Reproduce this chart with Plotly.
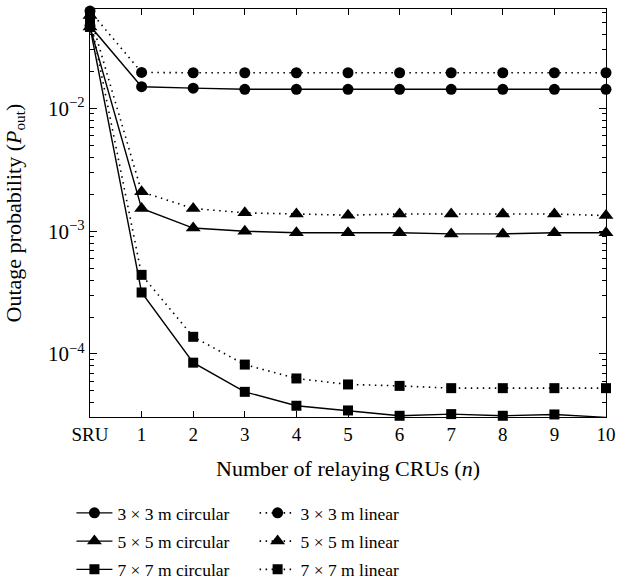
import plotly.graph_objects as go

x_labels = ["SRU", "1", "2", "3", "4", "5", "6", "7", "8", "9", "10"]
x_vals = list(range(11))

c3_circ = [0.047, 0.0150, 0.0146, 0.0143, 0.0143, 0.0143, 0.0143, 0.0143, 0.0143, 0.0143, 0.0143]
c3_lin = [0.062, 0.0196, 0.0195, 0.0195, 0.0195, 0.0195, 0.0195, 0.0195, 0.0195, 0.0195, 0.0195]
c5_circ = [0.046, 1.53e-3, 1.06e-3, 1.00e-3, 0.97e-3, 0.97e-3, 0.97e-3, 0.95e-3, 0.95e-3, 0.97e-3, 0.97e-3]
c5_lin = [0.057, 2.09e-3, 1.53e-3, 1.41e-3, 1.38e-3, 1.35e-3, 1.38e-3, 1.38e-3, 1.38e-3, 1.38e-3, 1.34e-3]
c7_circ = [0.046, 3.17e-4, 8.5e-5, 4.92e-5, 3.79e-5, 3.47e-5, 3.14e-5, 3.24e-5, 3.14e-5, 3.22e-5, 3.05e-5]
c7_lin = [0.055, 4.41e-4, 1.38e-4, 8.2e-5, 6.32e-5, 5.65e-5, 5.5e-5, 5.27e-5, 5.27e-5, 5.27e-5, 5.27e-5]

names = ["3 × 3 m circular", "5 × 5 m circular", "7 × 7 m circular",
         "3 × 3 m linear", "5 × 5 m linear", "7 × 7 m linear"]

y_major = [1e-4, 1e-3, 1e-2]
y_major_text = ["10<sup>−4</sup>", "10<sup>−3</sup>", "10<sup>−2</sup>"]
y_minor = [m * 10.0 ** e for e in range(-5, -1) for m in range(2, 10)]

FONT = "Liberation Serif"
fig = go.Figure()

series = [
    (c3_circ, names[0], "circle", "solid", "legend", 11),
    (c5_circ, names[1], "triangle-up", "solid", "legend", 13),
    (c7_circ, names[2], "square", "solid", "legend", 10),
    (c3_lin, names[3], "circle", "1.5px,4.5px", "legend2", 11),
    (c5_lin, names[4], "triangle-up", "1.5px,4.5px", "legend2", 13),
    (c7_lin, names[5], "square", "1.5px,4.5px", "legend2", 10),
]
for i, (vals, name, sym, dash, leg, ms) in enumerate(series):
    fig.add_trace(go.Scatter(
        x=x_vals, y=vals, name=name, mode="lines+markers",
        line=dict(color="black", width=1.4 if dash == "solid" else 1.6, dash=dash),
        marker=dict(symbol=sym, size=ms, color="black"),
        legend=leg, legendgroup=f"g{i}", cliponaxis=False,
    ))

legend_common = dict(
    font=dict(family=FONT, size=17.5, color="black"),
    bgcolor="rgba(0,0,0,0)", itemwidth=36, tracegroupgap=2.5,
    xanchor="left", yanchor="top", yref="container", y=0.151,
)

fig.update_layout(
    width=617, height=583,
    margin=dict(l=90, r=11, t=9, b=166, autoexpand=False),
    paper_bgcolor="white", plot_bgcolor="white",
    font=dict(family=FONT, size=18, color="black"),
    showlegend=True,
    legend=dict(x=-0.036, **legend_common),
    legend2=dict(x=0.319, **legend_common),
    xaxis=dict(
        range=[0, 10], tickvals=x_vals, ticktext=x_labels,
        ticks="inside", ticklen=6, tickcolor="black",
        showline=True, linecolor="black", linewidth=1.2, mirror="ticks",
        showgrid=False, zeroline=False, automargin=False,
        title=dict(text="Number of relaying CRUs (<i>n</i>)", standoff=16,
                   font=dict(family=FONT, size=22)),
        tickfont=dict(family=FONT, size=19),
    ),
    yaxis=dict(
        type="log", range=[-4.513, -1.191],
        tickvals=y_major, ticktext=y_major_text,
        ticks="inside", ticklen=7, tickcolor="black",
        minor=dict(tickvals=y_minor, ticks="inside", ticklen=4,
                   tickcolor="black", showgrid=False),
        showline=True, linecolor="black", linewidth=1.2, mirror="ticks",
        showgrid=False, zeroline=False, automargin=False,
        title=dict(text="Outage probability (<i>P</i><sub>out</sub>)", standoff=20,
                   font=dict(family=FONT, size=22)),
        tickfont=dict(family=FONT, size=21),
    ),
)

fig.write_html("out.html")
